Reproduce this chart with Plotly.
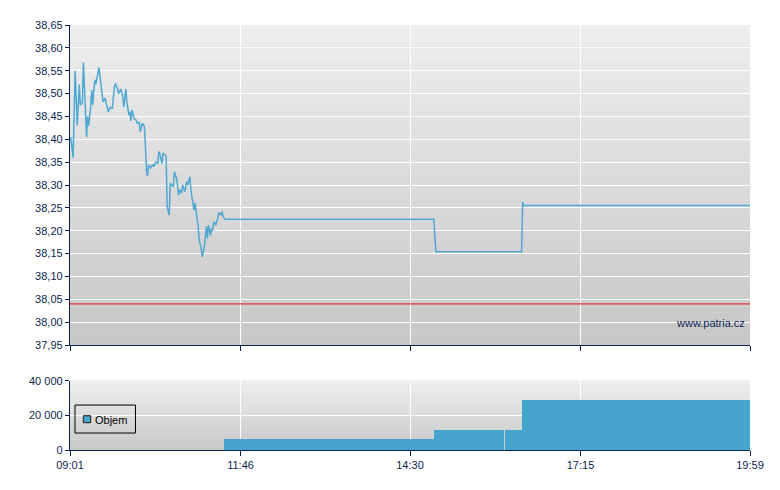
import plotly.graph_objects as go
from datetime import datetime

DAY = "2024-01-01 "

# ---- price series (time HH:MM, price) ----
price_times = [
    "09:01", "09:02", "09:04", "09:06", "09:08", "09:10", "09:11", "09:13", "09:14", "09:15",
    "09:17", "09:18", "09:19", "09:21", "09:22", "09:23", "09:25", "09:26", "09:27", "09:29",
    "09:30", "09:32", "09:33", "09:35", "09:37", "09:38", "09:40", "09:42", "09:44", "09:45",
    "09:47", "09:48", "09:50", "09:52", "09:53", "09:55", "09:56", "09:58", "09:59", "10:00",
    "10:01", "10:03", "10:05", "10:06", "10:08", "10:09", "10:11", "10:13", "10:14", "10:15",
    "10:16", "10:17", "10:19", "10:21", "10:22", "10:24", "10:26", "10:27", "10:28", "10:30",
    "10:31", "10:33", "10:34", "10:35", "10:37", "10:38", "10:41", "10:42", "10:44", "10:45",
    "10:46", "10:47", "10:49", "10:50", "10:52", "10:54", "10:55", "10:57", "10:58", "11:00",
    "11:01", "11:02", "11:04", "11:05", "11:06", "11:08", "11:09", "11:10", "11:11", "11:13",
    "11:14", "11:15", "11:17", "11:18", "11:19", "11:20", "11:22", "11:24", "11:25", "11:27",
    "11:28", "11:29", "11:31", "14:53", "14:54", "14:55", "16:18", "16:19", "16:20", "19:59",
]
price_values = [
    38.405, 38.400, 38.360, 38.550, 38.430, 38.520, 38.475, 38.480, 38.568, 38.497,
    38.405, 38.450, 38.430, 38.470, 38.508, 38.475, 38.530, 38.520, 38.530, 38.557,
    38.537, 38.504, 38.482, 38.490, 38.468, 38.460, 38.470, 38.468, 38.515, 38.522,
    38.510, 38.500, 38.510, 38.495, 38.470, 38.510, 38.482, 38.453, 38.460, 38.440,
    38.464, 38.446, 38.442, 38.435, 38.437, 38.417, 38.435, 38.428, 38.384, 38.333,
    38.320, 38.344, 38.337, 38.345, 38.340, 38.350, 38.348, 38.373, 38.368, 38.347,
    38.370, 38.365, 38.363, 38.253, 38.234, 38.304, 38.296, 38.329, 38.315, 38.300,
    38.278, 38.290, 38.282, 38.300, 38.285, 38.307, 38.300, 38.318, 38.289, 38.260,
    38.245, 38.261, 38.230, 38.209, 38.180, 38.161, 38.143, 38.158, 38.165, 38.209,
    38.183, 38.212, 38.190, 38.205, 38.200, 38.220, 38.212, 38.227, 38.238, 38.235,
    38.242, 38.232, 38.225, 38.225, 38.174, 38.154, 38.154, 38.263, 38.255, 38.255,
]
prev_close = 38.04

# ---- volume bars ----
vol_start = ["11:30", "14:53", "16:02", "16:18"]
vol_end = ["14:53", "16:01", "16:18", "19:59"]
vol_values = [6400, 11500, 11500, 28900]
vol_name = "Objem"

# ---- axes ----
x_ticks = ["09:01", "11:46", "14:30", "17:15", "19:59"]
price_ticks = [37.95, 38.00, 38.05, 38.10, 38.15, 38.20, 38.25, 38.30, 38.35,
               38.40, 38.45, 38.50, 38.55, 38.60, 38.65]
vol_ticks = [0, 20000, 40000]


def ts(t):
    return DAY + t


def ms(a, b):
    fa = datetime.strptime(ts(a), "%Y-%m-%d %H:%M")
    fb = datetime.strptime(ts(b), "%Y-%m-%d %H:%M")
    return (fb - fa).total_seconds() * 1000


NAVY = "#0b1f4f"
FONT = "Liberation Sans, Arial, sans-serif"
BAR = "#46a5cd"

fig = go.Figure()
fig.add_trace(go.Scatter(
    x=[ts(t) for t in price_times], y=price_values, mode="lines",
    line=dict(color="#4ea8d2", width=1.5), xaxis="x", yaxis="y",
    showlegend=False, hoverinfo="skip",
))
fig.add_trace(go.Bar(
    x=[ts(t) for t in vol_start], y=vol_values,
    width=[ms(a, b) for a, b in zip(vol_start, vol_end)], offset=0,
    marker=dict(color=BAR, line=dict(width=0)),
    name=vol_name, xaxis="x2", yaxis="y2", hoverinfo="skip", showlegend=False,
))

shapes = []


def gradient(xref, yref, n, top, bottom):
    out = []
    for i in range(n):
        f = i / (n - 1)
        c = round(top + (bottom - top) * f)
        out.append(dict(type="rect", xref=xref, yref=yref, x0=0, x1=1,
                        y1=1 - i / n, y0=1 - (i + 1) / n, layer="below",
                        line=dict(width=0), fillcolor=f"rgb({c},{c},{c})"))
    return out


shapes += gradient("x domain", "y domain", 60, 238, 199)
shapes += gradient("x2 domain", "y2 domain", 20, 238, 200)
shapes.append(dict(type="line", xref="x domain", yref="y", x0=0, x1=1,
                   y0=prev_close, y1=prev_close, line=dict(color="#e0383a", width=1.3),
                   layer="above"))
# legend box (drawn manually to match the compact original legend)
shapes.append(dict(type="rect", xref="x2 domain", yref="y2 domain",
                   x0=0.00735, x1=0.0963, y0=0.245, y1=0.649,
                   line=dict(color="black", width=1), fillcolor="rgba(0,0,0,0)",
                   layer="above"))
shapes.append(dict(type="rect", xref="x2 domain", yref="y2 domain",
                   x0=0.0196, x1=0.0304, y0=0.394, y1=0.495,
                   line=dict(color="#1a1a1a", width=1), fillcolor=BAR,
                   layer="above"))

axis_common = dict(
    type="date", range=[ts(x_ticks[0]), ts(x_ticks[-1])],
    tickvals=[ts(t) for t in x_ticks], ticktext=x_ticks,
    showgrid=True, gridcolor="white", gridwidth=1,
    showline=True, linecolor=NAVY, linewidth=1.3,
    ticks="outside", ticklen=5, tickcolor=NAVY, zeroline=False,
    tickfont=dict(family=FONT, size=11, color=NAVY),
)
yaxis_common = dict(
    showgrid=True, gridcolor="white", gridwidth=1,
    showline=True, linecolor=NAVY, linewidth=1.3,
    ticks="outside", ticklen=4, tickcolor=NAVY, zeroline=False,
    tickfont=dict(family=FONT, size=11, color=NAVY),
)

fig.update_layout(
    width=780, height=490,
    margin=dict(l=62, r=38, t=17, b=48),
    paper_bgcolor="white", plot_bgcolor="#dcdcdc",
    separators=", ",
    font=dict(family=FONT, size=11, color=NAVY),
    xaxis=dict(axis_common, domain=[0, 1], anchor="y", showticklabels=False),
    yaxis=dict(yaxis_common, domain=[0.247, 1], anchor="x", range=[37.95, 38.65],
               tickvals=price_ticks, tickformat=".2f"),
    xaxis2=dict(axis_common, domain=[0, 1], anchor="y2"),
    yaxis2=dict(yaxis_common, domain=[0, 0.163], anchor="x2", range=[0, 40000],
                tickvals=vol_ticks, tickformat=",d"),
    shapes=shapes,
    showlegend=False,
    annotations=[
        dict(text="www.patria.cz", xref="x domain", yref="y domain",
             x=0.995, y=0.068, xanchor="right", yanchor="middle",
             showarrow=False, font=dict(family=FONT, size=11, color=NAVY)),
        dict(text=vol_name, xref="x2 domain", yref="y2 domain",
             x=0.0345, y=0.44, xanchor="left", yanchor="middle",
             showarrow=False, font=dict(family=FONT, size=11, color="black")),
    ],
    bargap=0,
)

fig.write_html("out.html")
